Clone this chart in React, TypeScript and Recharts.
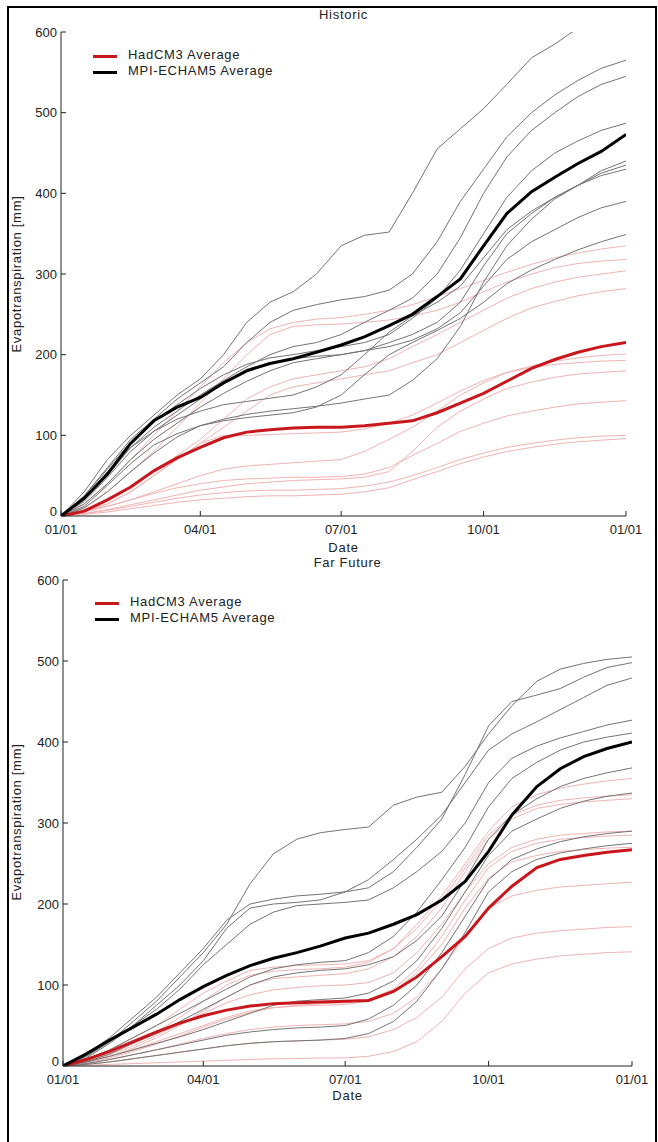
import React from 'react';
import { LineChart, Line, XAxis, YAxis } from 'recharts';

// sampling days (day of year) shared by every series
const DAYS = [0, 15, 30, 45, 60, 75, 90, 105, 120, 135, 150, 165, 181, 196, 212, 227, 243, 258, 273, 288, 304, 319, 334, 349, 365];
const DATE_TICKS = [0, 90, 181, 273, 365];
const DATE_LABELS = ['01/01', '04/01', '07/01', '10/01', '01/01'];
const ET_TICKS = [0, 100, 200, 300, 400, 500, 600];

// Historic
const HIST_HADCM3_AVG = [0, 6, 20, 36, 56, 72, 85, 97, 104, 107, 109, 110, 110, 112, 115, 118, 128, 140, 152, 167, 183, 194, 203, 210, 215];
const HIST_MPI_AVG = [0, 22, 52, 90, 118, 135, 147, 165, 180, 189, 195, 203, 212, 222, 236, 250, 272, 294, 335, 375, 402, 420, 437, 452, 473];
const HIST_HADCM3_RUNS = [
  [0, 15, 40, 70, 100, 130, 160, 190, 215, 232, 240, 244, 246, 250, 255, 262, 272, 282, 292, 302, 312, 320, 326, 331, 335],
  [0, 10, 30, 55, 80, 110, 140, 170, 200, 225, 235, 237, 238, 240, 243, 248, 255, 265, 278, 290, 300, 308, 313, 316, 318],
  [0, 8, 20, 35, 55, 75, 95, 120, 145, 160, 170, 175, 180, 185, 195, 210, 225, 240, 255, 270, 282, 290, 296, 300, 304],
  [0, 5, 15, 30, 50, 70, 90, 110, 130, 150, 160, 165, 170, 175, 180, 190, 200, 215, 230, 245, 258, 266, 273, 278, 282],
  [0, 5, 12, 20, 30, 40, 50, 58, 62, 64, 66, 68, 70, 80, 95, 110, 130, 150, 165, 178, 186, 192, 196, 199, 201],
  [0, 5, 15, 30, 50, 70, 90, 100, 100, 101, 102, 103, 104, 108, 115, 125, 140, 155, 168, 178, 184, 188, 190, 192, 193],
  [0, 3, 8, 14, 20, 26, 32, 36, 40, 42, 44, 45, 46, 48, 55, 80, 110, 130, 145, 158, 166, 172, 176, 178, 180],
  [0, 5, 12, 20, 28, 35, 40, 44, 46, 47, 48, 48, 49, 52, 60, 75, 90, 105, 115, 124, 130, 135, 139, 141, 143],
  [0, 3, 7, 12, 17, 22, 26, 29, 31, 32, 32, 33, 34, 37, 42, 50, 60, 70, 78, 85, 90, 94, 97, 99, 100],
  [0, 2, 5, 9, 13, 17, 20, 22, 24, 25, 25, 26, 27, 30, 35, 45, 55, 65, 73, 80, 85, 89, 92, 94, 96],
];
const HIST_MPI_RUNS = [
  [0, 30, 70, 100, 125, 150, 170, 200, 240, 265, 278, 300, 335, 348, 352, 400, 455, 480, 505, 535, 568, 585, 605, 630, 650],
  [0, 25, 60, 95, 120, 145, 165, 185, 215, 240, 255, 262, 268, 272, 280, 300, 340, 390, 430, 470, 500, 522, 540, 555, 565],
  [0, 20, 50, 85, 110, 130, 150, 168, 185, 200, 210, 215, 225, 240, 255, 270, 300, 345, 400, 445, 478, 500, 520, 535, 545],
  [0, 25, 58, 92, 118, 138, 158, 175, 188, 196, 200, 205, 210, 215, 225, 245, 270, 305, 350, 395, 428, 450, 465, 478, 487],
  [0, 15, 40, 70, 95, 115, 135, 152, 167, 180, 190, 195, 200, 205, 215, 225, 240, 265, 310, 350, 375, 395, 410, 428, 440],
  [0, 10, 30, 55, 78, 98, 112, 120, 126, 130, 133, 136, 140, 145, 150, 168, 195, 235, 290, 335, 368, 393, 410, 425, 435],
  [0, 22, 55, 85, 105, 120, 130, 138, 142, 146, 150, 160, 175, 200, 228, 248, 265, 285, 320, 355, 378, 395, 410, 422, 430],
  [0, 18, 48, 80, 105, 125, 145, 165, 182, 190, 195, 198, 200, 205, 210, 218, 232, 252, 285, 318, 340, 355, 370, 382, 390],
  [0, 12, 38, 65, 88, 102, 112, 118, 122, 125, 128, 135, 150, 175, 200, 215, 230, 245, 265, 288, 305, 318, 330, 340, 349],
];

// Far Future
const FUT_HADCM3_AVG = [0, 8, 18, 30, 42, 53, 62, 69, 74, 77, 78, 79, 80, 81, 92, 110, 135, 160, 195, 222, 245, 255, 260, 264, 267];
const FUT_MPI_AVG = [0, 15, 32, 48, 64, 82, 98, 112, 124, 133, 140, 148, 158, 164, 175, 187, 205, 228, 265, 310, 345, 367, 382, 392, 400];
const FUT_HADCM3_RUNS = [
  [0, 8, 20, 35, 50, 70, 90, 105, 118, 122, 124, 125, 126, 130, 145, 175, 210, 250, 290, 320, 335, 343, 348, 352, 355],
  [0, 6, 15, 28, 42, 60, 80, 100, 112, 117, 119, 120, 122, 128, 145, 170, 205, 245, 285, 310, 322, 328, 331, 333, 335],
  [0, 5, 12, 22, 35, 50, 68, 85, 100, 108, 110, 112, 114, 120, 135, 160, 195, 240, 280, 305, 318, 323, 326, 328, 330],
  [0, 6, 14, 25, 38, 52, 65, 78, 88, 94, 97, 99, 100, 103, 115, 140, 175, 215, 250, 270, 280, 285, 287, 289, 290],
  [0, 4, 10, 18, 27, 37, 48, 58, 66, 72, 75, 77, 78, 82, 95, 120, 160, 205, 245, 265, 275, 280, 282, 284, 285],
  [0, 5, 12, 20, 30, 40, 50, 60, 68, 72, 74, 75, 76, 80, 92, 115, 150, 195, 232, 252, 260, 265, 267, 269, 270],
  [0, 3, 8, 14, 20, 27, 34, 40, 45, 48, 50, 51, 52, 55, 65, 85, 120, 160, 195, 210, 217, 221, 223, 225, 227],
  [0, 2, 5, 9, 13, 17, 21, 25, 28, 30, 31, 32, 33, 36, 45, 60, 85, 120, 145, 158, 164, 167, 169, 171, 172],
  [0, 1, 2, 3, 4, 5, 6, 7, 8, 9, 9, 10, 10, 12, 18, 30, 55, 90, 115, 126, 132, 136, 138, 140, 141],
];
const FUT_MPI_RUNS = [
  [0, 12, 30, 55, 80, 110, 140, 175, 225, 262, 280, 288, 292, 295, 322, 332, 338, 370, 410, 445, 475, 490, 497, 502, 505],
  [0, 15, 35, 60, 85, 115, 145, 180, 200, 206, 210, 212, 215, 220, 240, 270, 305, 360, 420, 450, 458, 466, 480, 492, 498],
  [0, 10, 28, 50, 75, 100, 130, 170, 195, 200, 202, 205, 215, 230, 255, 280, 310, 350, 390, 410, 425, 440, 455, 470, 479],
  [0, 12, 30, 50, 70, 95, 125, 150, 175, 190, 198, 200, 202, 205, 220, 240, 265, 300, 350, 380, 395, 405, 413, 421, 427],
  [0, 8, 20, 35, 50, 65, 80, 95, 110, 120, 125, 128, 130, 140, 160, 190, 230, 270, 320, 355, 375, 390, 400, 406, 411],
  [0, 5, 15, 28, 40, 55, 70, 85, 100, 110, 115, 118, 120, 125, 135, 155, 185, 230, 280, 310, 330, 345, 355, 362, 368],
  [0, 5, 12, 20, 28, 36, 45, 55, 65, 75, 80, 82, 84, 90, 105, 130, 170, 215, 260, 290, 305, 318, 327, 333, 337],
  [0, 3, 8, 14, 20, 26, 32, 38, 42, 45, 47, 48, 50, 58, 75, 100, 140, 185, 230, 255, 268, 277, 283, 287, 290],
  [0, 2, 5, 9, 13, 17, 21, 25, 28, 30, 31, 32, 34, 40, 55, 80, 120, 165, 215, 240, 255, 263, 268, 272, 275],
];

const FONT = '"Liberation Sans", Arial, sans-serif';
const INK = '#222';
const RUN_RED = '#f1b3b3';
const RUN_GREY = '#747474';
const AVG_RED = '#c8161d';

const buildRows = (hadRuns: number[][], mpiRuns: number[][], hadAvg: number[], mpiAvg: number[]) =>
  DAYS.map((day, i) => {
    const row: Record<string, number> = { day, had: hadAvg[i], mpi: mpiAvg[i] };
    hadRuns.forEach((r, j) => (row['h' + j] = r[i]));
    mpiRuns.forEach((r, j) => (row['m' + j] = r[i]));
    return row;
  });

const dateFmt = (v: number) => DATE_LABELS[DATE_TICKS.indexOf(v)] ?? '';

// y tick label; the "0" sits a little higher so it clears the date labels
const YTick = (props: any) => {
  const { x, y, payload } = props;
  const lift = payload.value === 0 ? 5 : 0;
  return (
    <text x={x} y={y - lift} dy="0.35em" textAnchor="end" fontSize={13} fill={INK}>
      {payload.value}
    </text>
  );
};

type PanelProps = {
  top: number;
  title: string;
  plotLeft: number;
  plotRight: number;
  bottomMargin: number;
  legendX: number;
  legendY: number;
  hadRuns: number[][];
  mpiRuns: number[][];
  hadAvg: number[];
  mpiAvg: number[];
};

const Panel = ({ top, title, plotLeft, plotRight, bottomMargin, legendX, legendY, hadRuns, mpiRuns, hadAvg, mpiAvg }: PanelProps) => {
  const data = buildRows(hadRuns, mpiRuns, hadAvg, mpiAvg);
  const mid = (plotLeft + plotRight) / 2;
  const textStyle: React.CSSProperties = { position: 'absolute', fontSize: 13, color: INK, letterSpacing: 0.7, whiteSpace: 'nowrap', lineHeight: '14px' };
  const axisLine = { stroke: INK, strokeWidth: 1 };
  return (
    <div style={{ position: 'absolute', top, left: 0, width: 658, height: 560 }}>
      <LineChart width={658} height={560} data={data} margin={{ top: 32, right: 658 - plotRight, left: 0, bottom: bottomMargin }}>
        <XAxis xAxisId="b" dataKey="day" type="number" domain={[0, 365]} ticks={DATE_TICKS} interval={0}
          tickFormatter={dateFmt} tickSize={-5} tickMargin={14} height={30} allowDataOverflow
          axisLine={axisLine} tickLine={axisLine} tick={{ fontSize: 13, fill: INK }} />
        <XAxis xAxisId="t" orientation="top" dataKey="day" type="number" domain={[0, 365]} ticks={DATE_TICKS} interval={0}
          tick={false} tickSize={-5} height={0} allowDataOverflow axisLine={axisLine} tickLine={axisLine} />
        <YAxis yAxisId="l" type="number" domain={[0, 600]} ticks={ET_TICKS} interval={0} width={plotLeft}
          tickSize={-5} tickMargin={9} allowDataOverflow axisLine={axisLine} tickLine={axisLine} tick={<YTick />} />
        <YAxis yAxisId="r" orientation="right" type="number" domain={[0, 600]} ticks={ET_TICKS} interval={0} width={0}
          tick={false} tickSize={-5} allowDataOverflow axisLine={axisLine} tickLine={axisLine} />
        {hadRuns.map((_, j) => (
          <Line key={'h' + j} xAxisId="b" yAxisId="l" dataKey={'h' + j} stroke={RUN_RED} strokeWidth={1} dot={false} isAnimationActive={false} />
        ))}
        {mpiRuns.map((_, j) => (
          <Line key={'m' + j} xAxisId="b" yAxisId="l" dataKey={'m' + j} stroke={RUN_GREY} strokeWidth={1} dot={false} isAnimationActive={false} />
        ))}
        <Line xAxisId="b" yAxisId="l" dataKey="had" stroke={AVG_RED} strokeWidth={3} dot={false} isAnimationActive={false} />
        <Line xAxisId="b" yAxisId="l" dataKey="mpi" stroke="#000" strokeWidth={3} dot={false} isAnimationActive={false} />
      </LineChart>

      <div style={{ ...textStyle, top: 8, left: mid, transform: 'translateX(-50%)' }}>{title}</div>
      <div style={{ ...textStyle, top: 541, left: mid, transform: 'translateX(-50%)' }}>Date</div>
      <div style={{ ...textStyle, top: 274, left: 17, transform: 'translate(-50%, -50%) rotate(-90deg)' }}>Evapotranspiration [mm]</div>

      <div style={{ position: 'absolute', left: legendX, top: legendY - 1.5, width: 24, height: 3, background: AVG_RED }} />
      <div style={{ ...textStyle, left: legendX + 35, top: legendY - 8 }}>HadCM3 Average</div>
      <div style={{ position: 'absolute', left: legendX, top: legendY + 16 - 1.5, width: 24, height: 3, background: '#000' }} />
      <div style={{ ...textStyle, left: legendX + 35, top: legendY + 16 - 8 }}>MPI-ECHAM5 Average</div>
    </div>
  );
};

export default function App() {
  return (
    <div style={{ position: 'absolute', top: 0, left: 0, width: 658, height: 1142, background: '#fff', fontFamily: FONT, overflow: 'hidden' }}>
      <div style={{ position: 'absolute', top: 6, left: 7, width: 646, height: 1140, borderTop: '2px solid #000', borderLeft: '2px solid #000', borderRight: '2px solid #000' }} />
      <Panel top={0} title="Historic" plotLeft={61} plotRight={626} bottomMargin={14} legendX={93} legendY={56}
        hadRuns={HIST_HADCM3_RUNS} mpiRuns={HIST_MPI_RUNS} hadAvg={HIST_HADCM3_AVG} mpiAvg={HIST_MPI_AVG} />
      <Panel top={548} title="Far Future" plotLeft={63} plotRight={632} bottomMargin={12} legendX={95} legendY={55}
        hadRuns={FUT_HADCM3_RUNS} mpiRuns={FUT_MPI_RUNS} hadAvg={FUT_HADCM3_AVG} mpiAvg={FUT_MPI_AVG} />
    </div>
  );
}
